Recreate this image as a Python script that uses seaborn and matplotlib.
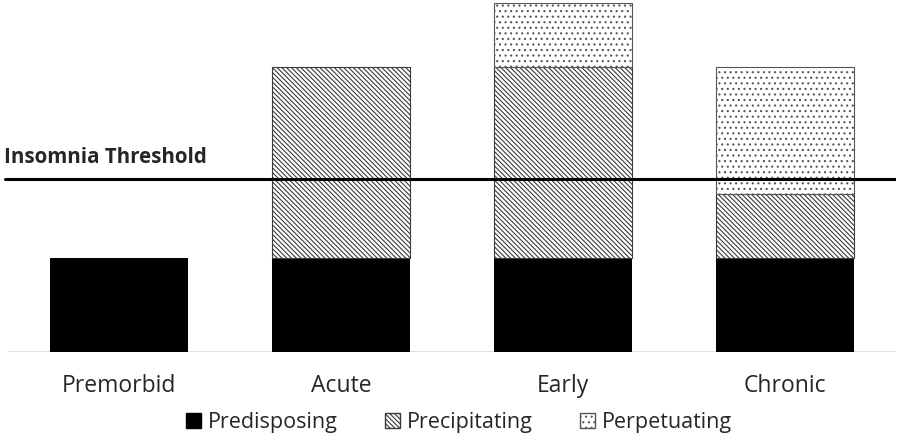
import numpy as np
import pandas as pd
import matplotlib
matplotlib.use("Agg")
import matplotlib.pyplot as plt
import seaborn as sns
from matplotlib.patches import Patch

# data (relative units, predisposing = 1)
stages = ["Premorbid", "Acute", "Early", "Chronic"]
predisposing = [1.0, 1.0, 1.0, 1.0]
precipitating = [0.0, 2.02, 2.02, 0.68]
perpetuating = [0.0, 0.0, 0.68, 1.34]
threshold = 1.83

df = pd.DataFrame({"stage": stages, "pred": predisposing,
                   "prec": precipitating, "perp": perpetuating})
df["b2"] = df.pred
df["b3"] = df.pred + df.prec

sns.set_theme(style="white")
plt.rcParams['font.family'] = ['Open Sans', 'DejaVu Sans']
plt.rcParams['hatch.linewidth'] = 0.8

fig = plt.figure(figsize=(9, 4.4), dpi=100)
ax = fig.add_axes([8/900, 88/440, 888/900, 349/440])

w = 0.62
hatch_prec = "\\" * 7
hatch_perp = "..."
sns.barplot(data=df, x="stage", y="pred", color="black", width=w,
            edgecolor="black", linewidth=0, saturation=1, ax=ax)
sns.barplot(data=df[df.prec > 0], x="stage", y="prec", bottom=df[df.prec > 0].b2,
            order=stages, color="white", width=w, edgecolor="#3a3a3a",
            linewidth=0.8, hatch=hatch_prec, saturation=1, ax=ax)
sns.barplot(data=df[df.perp > 0], x="stage", y="perp", bottom=df[df.perp > 0].b3,
            order=stages, color="white", width=w, edgecolor="#555555",
            linewidth=0.8, hatch=hatch_perp, saturation=1, ax=ax)

# baseline + threshold line
ax.axhline(0, color="#d9d9d9", lw=1.2, zorder=0)
ax.axhline(threshold, color="black", lw=2.2, zorder=5)
ax.plot([-0.515, -0.5], [threshold, threshold], color="black", lw=2.2, clip_on=False)
fig.text(4/900, 277/440, "Insomnia Threshold", fontsize=14.8,
         fontweight="bold", ha="left", va="baseline")

ax.set_xlim(-0.5, 3.5)
ax.set_ylim(0, 3.7)
ax.set_xlabel("")
ax.set_ylabel("")
ax.set_yticks([])
ax.tick_params(axis="x", length=0, labelsize=16.5, pad=16)
sns.despine(ax=ax, left=True, bottom=True)

handles = [Patch(facecolor="black", edgecolor="black", label="Predisposing"),
           Patch(facecolor="white", edgecolor="#3a3a3a", hatch=hatch_prec, label="Precipitating"),
           Patch(facecolor="white", edgecolor="#555555", hatch=hatch_perp, label="Perpetuating")]
fig.legend(handles=handles, loc="center", bbox_to_anchor=(0.51, 0.04), ncol=3,
           frameon=False, fontsize=15.5, handlelength=0.7, handleheight=0.7,
           handletextpad=0.3, columnspacing=2.2)

fig.savefig("out.png", dpi=100)
